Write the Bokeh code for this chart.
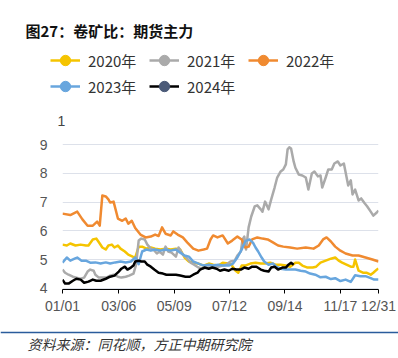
from bokeh.plotting import figure
from bokeh.layouts import column
from bokeh.models import (FixedTicker, Legend, LegendItem, Label, BoxAnnotation, ColumnDataSource)
from bokeh.embed import file_html
from bokeh.resources import INLINE

TITLE = "图27：卷矿比：期货主力"
SOURCE = "资料来源：同花顺，方正中期研究院"
TOP_MARK = "1"

tick_days = [0, 65, 129, 193, 257, 321, 365]
tick_labels = ["01/01", "03/06", "05/09", "07/12", "09/14", "11/17", "12/31"]
y_ticks = [4, 5, 6, 7, 8, 9]

series_names = ["2020年", "2021年", "2022年", "2023年", "2024年"]

days_2020 = [0, 5, 9, 15, 21, 27, 30, 35, 39, 43, 46, 50, 53, 57, 60, 64, 67, 72, 76, 81,
             84, 88, 92, 97, 102, 107, 113, 119, 125, 131, 136, 141, 146, 151, 157, 163, 169, 174, 180, 185,
             191, 195, 200, 203, 207, 211, 217, 223, 229, 234, 240, 246, 252, 258, 263, 269, 273, 277, 283, 289,
             293, 298, 304, 310, 315, 319, 323, 328, 333, 336, 338, 342, 347, 351, 356, 359, 363, 365]
ratio_2020 = [5.52, 5.49, 5.56, 5.49, 5.52, 5.49, 5.49, 5.7, 5.73, 5.56, 5.42, 5.35, 5.49, 5.52, 5.42, 5.49, 5.38, 5.28, 5.17, 5.1,
              5.07, 5.45, 5.45, 5.38, 5.42, 5.38, 5.35, 5.38, 5.35, 5.38, 5.35, 5.07, 4.93, 4.89, 4.86, 4.79, 4.86, 4.82, 4.79, 4.89,
              4.86, 4.82, 4.61, 4.54, 4.79, 4.79, 4.86, 4.89, 4.86, 4.86, 4.89, 4.82, 4.82, 4.79, 4.75, 4.89, 4.89, 4.79, 4.72, 4.72,
              4.75, 4.89, 4.96, 5.03, 5.07, 4.96, 4.89, 4.82, 4.75, 4.75, 5.0, 4.61, 4.54, 4.54, 4.47, 4.54, 4.65, 4.68]

days_2021 = [0, 3, 7, 12, 16, 21, 25, 29, 32, 36, 38, 42, 46, 51, 55, 59, 64, 68, 73, 77,
             82, 85, 88, 91, 95, 98, 102, 105, 109, 112, 116, 119, 122, 126, 131, 134, 139, 143, 148, 152,
             157, 162, 166, 171, 176, 180, 185, 189, 194, 199, 202, 206, 208, 210, 212, 215, 218, 222, 225, 229,
             231, 234, 238, 241, 245, 248, 252, 255, 258, 260, 262, 264, 267, 269, 273, 277, 281, 284, 288, 291,
             295, 298, 300, 304, 307, 311, 314, 318, 321, 325, 327, 330, 333, 335, 338, 342, 345, 349, 352, 356,
             359, 363, 365]
ratio_2021 = [4.65, 4.54, 4.47, 4.4, 4.37, 4.33, 4.37, 4.58, 4.65, 4.61, 4.47, 4.37, 4.37, 4.37, 4.44, 4.47, 4.4, 4.37, 4.4, 4.44,
              4.51, 4.82, 5.66, 5.73, 5.7, 5.52, 5.38, 5.35, 5.21, 5.28, 5.17, 5.45, 5.28, 5.24, 5.1, 5.42, 5.17, 5.07, 4.89, 4.82,
              4.72, 4.68, 4.72, 4.72, 4.79, 4.75, 4.79, 4.82, 4.93, 4.96, 5.14, 5.28, 5.7, 5.8, 5.35, 6.12, 6.5, 6.85, 6.89, 6.75,
              6.67, 7.02, 6.75, 7.09, 7.51, 7.86, 8.07, 8.14, 8.32, 8.84, 8.91, 8.87, 8.42, 8.2, 7.96, 7.93, 7.86, 7.44, 8.0, 8.07,
              7.9, 7.93, 7.51, 7.86, 8.14, 8.14, 8.35, 8.42, 8.28, 8.35, 8.04, 7.58, 7.76, 7.27, 7.44, 7.06, 7.13, 6.96, 6.85, 6.67,
              6.53, 6.64, 6.71]

days_2022 = [0, 9, 17, 23, 29, 35, 40, 43, 46, 50, 53, 55, 59, 64, 69, 73, 76, 80, 84, 90,
             96, 102, 107, 111, 115, 119, 125, 128, 133, 139, 144, 151, 157, 163, 167, 171, 174, 179, 185, 191,
             196, 202, 207, 211, 215, 219, 225, 231, 237, 243, 249, 255, 263, 271, 281, 290, 296, 301, 305, 310,
             315, 321, 327, 335, 342, 350, 358, 365]
ratio_2022 = [6.6, 6.55, 6.67, 6.4, 6.18, 6.18, 6.32, 6.18, 7.23, 7.2, 7.1, 6.99, 7.02, 6.43, 6.35, 6.43, 6.25, 6.35, 6.1, 5.87,
              5.77, 5.8, 5.87, 5.82, 6.12, 5.9, 5.84, 5.98, 5.87, 5.77, 5.6, 5.38, 5.31, 5.35, 5.38, 5.7, 5.84, 5.77, 5.84, 5.56,
              5.66, 5.8, 5.7, 5.42, 5.45, 5.7, 5.77, 5.73, 5.7, 5.6, 5.49, 5.45, 5.42, 5.38, 5.42, 5.38, 5.49, 5.7, 5.77, 5.63,
              5.45, 5.31, 5.21, 5.14, 5.14, 5.07, 5.0, 4.93]

days_2023 = [0, 5, 9, 14, 17, 22, 27, 32, 38, 44, 50, 55, 61, 67, 73, 79, 84, 88, 92, 97,
             102, 107, 113, 119, 125, 131, 136, 141, 146, 151, 157, 163, 169, 174, 180, 186, 192, 197, 202, 207,
             211, 216, 220, 223, 226, 230, 233, 238, 243, 247, 252, 258, 263, 269, 275, 281, 286, 292, 298, 304,
             310, 315, 321, 327, 333, 338, 344, 350, 356, 360, 365]
ratio_2023 = [4.89, 5.07, 4.96, 5.03, 5.07, 4.96, 4.96, 4.89, 4.9, 4.86, 4.9, 4.86, 4.9, 4.93, 4.9, 4.93, 5.07, 4.84, 5.28, 5.35,
              5.31, 5.35, 5.31, 5.35, 5.31, 5.35, 5.24, 5.14, 5.1, 4.93, 4.86, 4.79, 4.82, 4.79, 4.82, 4.79, 4.79, 4.86, 5.07, 5.35,
              5.63, 5.7, 5.59, 5.42, 5.28, 5.07, 4.93, 4.82, 4.86, 4.75, 4.68, 4.65, 4.65, 4.65, 4.61, 4.58, 4.51, 4.47, 4.38, 4.4,
              4.32, 4.35, 4.25, 4.3, 4.22, 4.45, 4.42, 4.42, 4.35, 4.3, 4.3]

days_2024 = [0, 3, 7, 12, 16, 21, 25, 30, 35, 39, 44, 50, 55, 60, 65, 68, 72, 75, 79, 82,
             84, 88, 91, 95, 98, 102, 106, 111, 116, 120, 125, 131, 136, 142, 147, 151, 156, 159, 164, 169,
             173, 178, 182, 187, 192, 196, 201, 206, 210, 215, 219, 224, 229, 233, 238, 241, 245, 249, 254, 258,
             261, 264, 267]
ratio_2024 = [4.3, 4.16, 4.16, 4.26, 4.33, 4.3, 4.19, 4.23, 4.3, 4.26, 4.26, 4.33, 4.4, 4.44, 4.58, 4.68, 4.75, 4.65, 4.72, 4.79,
              4.93, 4.96, 4.93, 4.93, 4.82, 4.75, 4.65, 4.54, 4.51, 4.47, 4.47, 4.47, 4.44, 4.4, 4.4, 4.47, 4.54, 4.65, 4.72, 4.68,
              4.72, 4.68, 4.61, 4.65, 4.61, 4.68, 4.65, 4.65, 4.72, 4.68, 4.75, 4.75, 4.65, 4.61, 4.58, 4.72, 4.75, 4.65, 4.72, 4.72,
              4.82, 4.89, 4.82]

all_days = [days_2020, days_2021, days_2022, days_2023, days_2024]
all_ratios = [ratio_2020, ratio_2021, ratio_2022, ratio_2023, ratio_2024]
line_colors = ["#f5c400", "#aaaaaa", "#f08a30", "#68a6de", "#000000"]
marker_colors = ["#f5c400", "#aaaaaa", "#f08a30", "#68a6de", "#4b5a78"]

CJK = "'Noto Sans CJK SC'"
NUM = "'Liberation Sans'"
W = 398


def blank(h):
    f = figure(width=W, height=h, x_range=(0, 1), y_range=(0, 1),
               x_axis_type=None, y_axis_type=None, output_backend="svg",
               toolbar_location=None, min_border=0,
               min_border_left=0, min_border_right=0, min_border_top=0, min_border_bottom=0)
    f.outline_line_color = None
    f.border_fill_color = "white"
    f.background_fill_color = "white"
    return f


# ---------- header (title + legend) ----------
head = blank(130)

# ---------- chart ----------
p = figure(width=W, height=188, x_range=(0, 365), y_range=(3.955, 9.29),
           output_backend="svg", toolbar_location=None,
           min_border_left=62, min_border_right=20, min_border_top=6, min_border_bottom=29)
p.outline_line_color = None
p.background_fill_color = "white"
p.border_fill_color = "white"

p.xgrid.visible = False
p.ygrid.ticker = FixedTicker(ticks=y_ticks)
p.ygrid.grid_line_color = "#dde1ea"
p.ygrid.grid_line_width = 1

p.xaxis.ticker = FixedTicker(ticks=tick_days)
p.xaxis.major_label_overrides = {d: t for d, t in zip(tick_days, tick_labels)}
p.xaxis.axis_line_color = "#000000"
p.xaxis.axis_line_width = 1
p.xaxis.major_tick_line_color = "#000000"
p.xaxis.major_tick_out = 4
p.xaxis.major_tick_in = 0
p.xaxis.minor_tick_line_color = None
p.xaxis.major_label_standoff = 4
p.xaxis.major_label_text_font_size = "14px"
p.xaxis.major_label_text_color = "#555555"
p.xaxis.major_label_text_font = NUM

p.yaxis.ticker = FixedTicker(ticks=y_ticks)
p.yaxis.axis_line_color = None
p.yaxis.major_tick_line_color = None
p.yaxis.minor_tick_line_color = None
p.yaxis.major_label_standoff = 9
p.yaxis.major_label_text_font_size = "14px"
p.yaxis.major_label_text_color = "#555555"
p.yaxis.major_label_text_font = NUM

items = []
for name, d, r, lc, mc in zip(series_names, all_days, all_ratios, line_colors, marker_colors):
    src = ColumnDataSource(dict(x=d, y=r))
    p.line("x", "y", source=src, line_color=lc, line_width=2.5, line_join="round")
    # legend swatches live in the header; the series lie outside its (0,1) ranges
    hl = head.line("x", "y", source=src, line_color=lc, line_width=2.5)
    hm = head.scatter("x", "y", source=src, size=10, fill_color=mc, line_color=mc)
    items.append(LegendItem(label=name, renderers=[hl, hm]))

legend = Legend(items=items, location=(50, 31), orientation="horizontal", ncols=3,
                glyph_width=30, glyph_height=26, label_standoff=8, label_width=61, label_height=26,
                spacing=0, padding=0, margin=0, border_line_color=None, background_fill_alpha=0,
                label_text_font_size="15px", label_text_color="#333333",
                label_text_font=CJK, label_text_baseline="middle")
head.add_layout(legend, "center")

head.add_layout(Label(x=25, y=100, x_units="screen", y_units="screen", text=TITLE,
                      text_font=CJK, text_font_size="15px", text_font_style="bold",
                      text_color="#111111", text_align="left", text_baseline="middle"))
head.add_layout(Label(x=61, y=10, x_units="screen", y_units="screen", text=TOP_MARK,
                      text_font=NUM, text_font_size="14px", text_color="#444444",
                      text_align="center", text_baseline="middle"))

# ---------- footer ----------
foot = blank(40)
foot.add_layout(BoxAnnotation(left=0, right=W, bottom=25.2, top=26.8,
                              left_units="screen", right_units="screen",
                              bottom_units="screen", top_units="screen",
                              fill_color="#2a5c9c", fill_alpha=1, line_color=None))
foot.add_layout(Label(x=27, y=15, x_units="screen", y_units="screen", text=SOURCE,
                      text_font=CJK, text_font_size="14px", text_font_style="italic",
                      text_color="#333333", text_align="left", text_baseline="middle"))

layout = column(column(head), p, column(foot), spacing=0)
open("out.html", "w").write(file_html(layout, INLINE))
